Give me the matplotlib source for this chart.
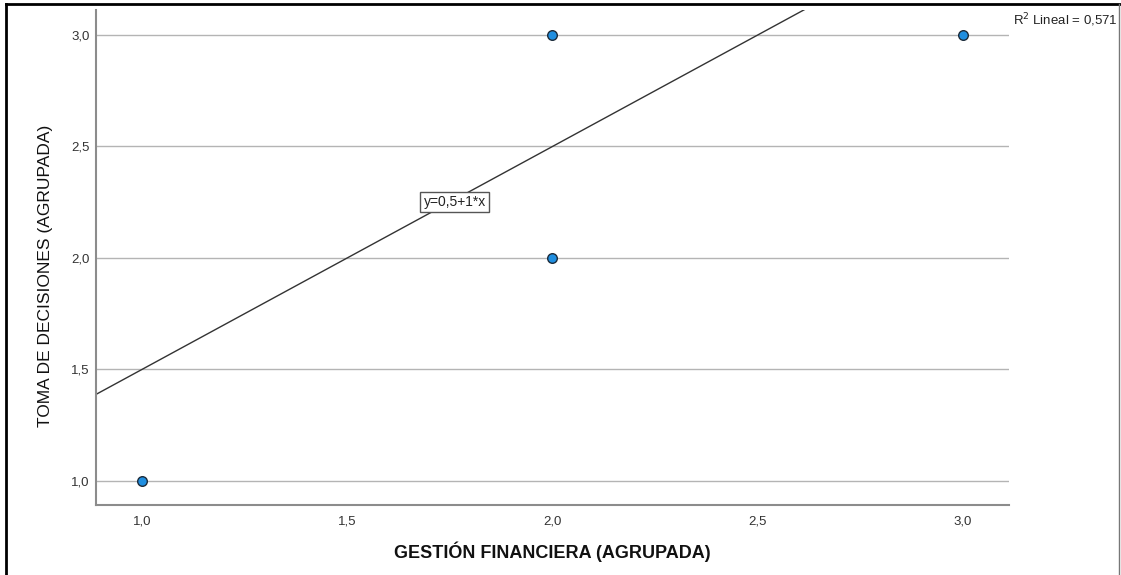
import numpy as np
import matplotlib.pyplot as plt
from matplotlib.lines import Line2D

# observed points (grouped scores)
gestion = [1.0, 2.0, 2.0, 3.0]
toma = [1.0, 3.0, 2.0, 3.0]

# fit line y = a + b*x
intercept = 0.5
slope = 1.0
r2 = 0.571

xticks = [1.0, 1.5, 2.0, 2.5, 3.0]
yticks = [1.0, 1.5, 2.0, 2.5, 3.0]

plt.rcParams['font.family'] = ['Liberation Sans', 'DejaVu Sans']

fig = plt.figure(figsize=(11.21, 5.75), dpi=100)
ax = fig.add_axes([0.0856, 0.1217, 0.9001 - 0.0856, 0.9826 - 0.1217])

ax.set_xlim(0.888, 3.112)
ax.set_ylim(0.892, 3.112)

# horizontal reference lines
for yv in yticks:
    ax.axhline(yv, color='#b4b4b4', lw=1.0, zorder=1)

# fit line
xs = np.array(ax.get_xlim())
ax.plot(xs, intercept + slope * xs, color='#333333', lw=1.0, zorder=2)

ax.scatter(gestion, toma, s=48, color='#1f8ee0', edgecolor='#1c2b3a',
           linewidth=1.0, zorder=3)

ax.text(1.762, 2.251, 'y=0,5+1*x', fontsize=10, color='#222222',
        ha='center', va='center', zorder=4,
        bbox=dict(boxstyle='square,pad=0.25', fc='white', ec='#555555', lw=1.0))

ax.set_xticks(xticks)
ax.set_yticks(yticks)
ax.set_xticklabels([f'{v:.1f}'.replace('.', ',') for v in xticks])
ax.set_yticklabels([f'{v:.1f}'.replace('.', ',') for v in yticks])
ax.tick_params(length=0, labelsize=9.5, labelcolor='#333333')
ax.tick_params(axis='x', pad=7.5)
ax.tick_params(axis='y', pad=4.5)

for side in ['top', 'right']:
    ax.spines[side].set_visible(False)
for side in ['left', 'bottom']:
    ax.spines[side].set_color('#8c8c8c')
    ax.spines[side].set_linewidth(1.5)

ax.set_xlabel('GESTIÓN FINANCIERA (AGRUPADA)', fontsize=13, fontweight='bold',
              color='#111111', labelpad=10)
ax.set_ylabel('TOMA DE DECISIONES (AGRUPADA)', fontsize=12.5,
              color='#111111')
ax.yaxis.set_label_coords(-0.047, 0.4626)

fig.text(0.9037, 0.965, 'R$^2$ Lineal = 0,571', fontsize=9.5, color='#222222',
         ha='left', va='center')

# outer frame
fig.add_artist(Line2D([0.0054, 0.0054], [0, 0.993], transform=fig.transFigure,
                      color='black', lw=2.0))
fig.add_artist(Line2D([0.0054, 0.999], [0.993, 0.993], transform=fig.transFigure,
                      color='black', lw=2.0))
fig.add_artist(Line2D([0.9985, 0.9985], [0, 0.993], transform=fig.transFigure,
                      color='#777777', lw=1.0))

fig.savefig('out.png', dpi=100)
